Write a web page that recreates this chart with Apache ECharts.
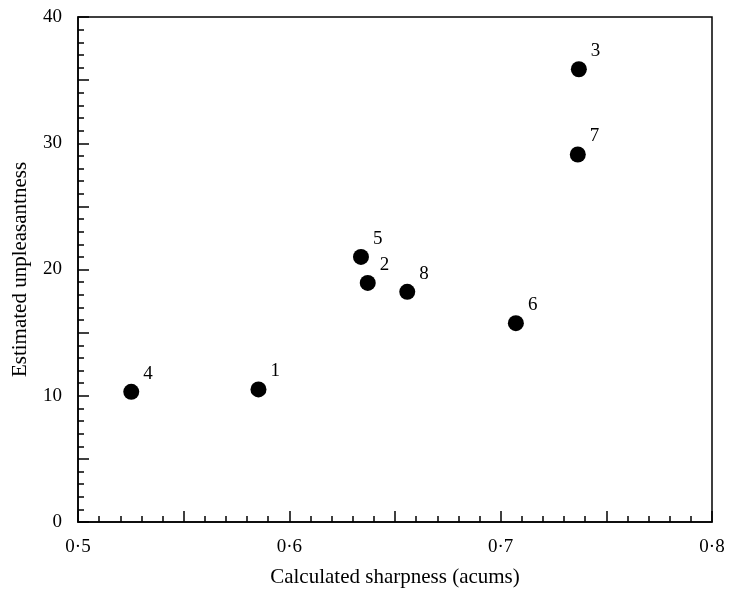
<!DOCTYPE html>
<html>
<head>
<meta charset="utf-8">
<script src="https://cdn.jsdelivr.net/npm/echarts@6/dist/echarts.min.js"></script>
<style>
  html, body { margin: 0; padding: 0; background: #fff; }
  #chart { width: 729px; height: 591px; }
</style>
</head>
<body>
<div id="chart"></div>
<script>
// sound ids and their values
const soundIds = ['1', '2', '3', '4', '5', '6', '7', '8'];
const sharpness = [0.5854, 0.6371, 0.7370, 0.5252, 0.6339, 0.7072, 0.7365, 0.6558];
const unpleasantness = [10.50, 18.94, 35.86, 10.31, 21.00, 15.75, 29.11, 18.23];

const FONT = '"Liberation Serif", "Times New Roman", serif';

const chart = echarts.init(document.getElementById('chart'));

// x labels use a raised dot as decimal point, e.g. 0·5
const fmtX = v => {
  if (Math.abs(v * 10 - Math.round(v * 10)) > 1e-6) return '';
  return v.toFixed(1).replace('.', '\u00b7');
};
const fmtY = v => (v % 10 === 0 ? String(v) : '');

const points = soundIds.map((id, i) => [sharpness[i], unpleasantness[i], id]);

const option = {
  animation: false,
  backgroundColor: '#fff',
  grid: {
    left: 78,
    right: 17,
    top: 17,
    bottom: 69,
    outerBoundsMode: 'none',
    containLabel: false,
    show: true,
    borderColor: '#000',
    borderWidth: 1.5,
    backgroundColor: 'transparent'
  },
  xAxis: {
    type: 'value',
    min: 0.5,
    max: 0.8,
    interval: 0.05,
    name: 'Calculated sharpness (acums)',
    nameLocation: 'middle',
    nameGap: 45,
    nameTextStyle: { fontFamily: FONT, fontSize: 21, color: '#000' },
    axisLine: { show: true, lineStyle: { color: '#000', width: 1.5 } },
    axisTick: { show: true, inside: true, length: 11, lineStyle: { color: '#000', width: 1.5 } },
    minorTick: { show: true, splitNumber: 5, length: 6, lineStyle: { color: '#000', width: 1.5 } },
    splitLine: { show: false },
    axisLabel: {
      fontFamily: FONT,
      fontSize: 19,
      color: '#000',
      margin: 16,
      formatter: fmtX
    }
  },
  yAxis: {
    type: 'value',
    min: 0,
    max: 40,
    interval: 5,
    name: 'Estimated unpleasantness',
    nameLocation: 'middle',
    nameGap: 47,
    nameTextStyle: { fontFamily: FONT, fontSize: 21, color: '#000' },
    axisLine: { show: true, lineStyle: { color: '#000', width: 1.5 } },
    axisTick: { show: true, inside: true, length: 11, lineStyle: { color: '#000', width: 1.5 } },
    minorTick: { show: true, splitNumber: 5, length: 6, lineStyle: { color: '#000', width: 1.5 } },
    splitLine: { show: false },
    axisLabel: {
      fontFamily: FONT,
      fontSize: 19,
      color: '#000',
      margin: 16,
      formatter: fmtY
    }
  },
  series: [
    {
      type: 'scatter',
      data: points,
      symbol: 'circle',
      symbolSize: 16,
      itemStyle: { color: '#000', opacity: 1 },
      label: {
        show: true,
        position: 'right',
        distance: 4,
        offset: [0, -18],
        fontFamily: FONT,
        fontSize: 19,
        color: '#000',
        formatter: p => p.value[2]
      }
    }
  ]
};

chart.setOption(option);
</script>
</body>
</html>
